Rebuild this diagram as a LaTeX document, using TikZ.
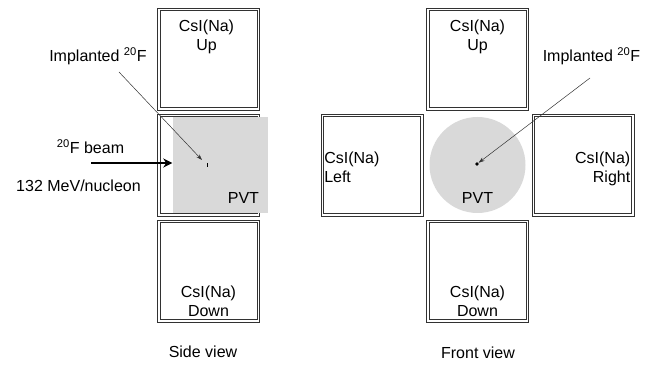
\documentclass[tikz,border=0pt]{standalone}
\usepackage{fontspec}
\setmainfont{Liberation Sans}
\usetikzlibrary{arrows.meta}
\definecolor{pvtgray}{RGB}{217,217,217}
\definecolor{rim}{RGB}{50,50,50}

\begin{document}
\begin{tikzpicture}[x=1pt, y=1pt, node distance=106pt,
    det/.style={draw=rim, line width=0.9pt, minimum size=102pt, inner sep=0pt},
    rimin/.style={draw=rim, line width=0.9pt},
    txt/.style={font=\fontsize{16}{19}\selectfont, inner sep=0pt, align=center},
    pin/.style={draw=rim, line width=0.5pt, -{Stealth[length=6pt, width=4pt]}},
    beam/.style={line width=2pt, -{Stealth[length=9pt, width=9pt]}}]
  \useasboundingbox (0,0) rectangle (667,369);

  % side view
  \node[det] (mS) at (208.5,204) {};
  \node[det] (uS) [above of=mS] {};
  \node[det] (dS) [below of=mS] {};
  \foreach \b in {uS,mS,dS}
    \draw[rimin] ([shift={(3pt,3pt)}]\b.south west) rectangle ([shift={(-3pt,-3pt)}]\b.north east);
  \node[fill=pvtgray, minimum width=95.5pt, minimum height=96pt, inner sep=0pt] (pvtS) at (220.25,204) {};
  \node[txt, anchor=north] (uSt) at ([xshift=-2pt, yshift=-12pt]uS.north) {CsI(Na)\\Up};
  \node[txt, anchor=north] (dSt) at ([yshift=37pt]dS.south) {CsI(Na)\\Down};
  \node[txt, anchor=base east] (pvtSt) at ([xshift=-9pt, yshift=10pt]pvtS.south east) {PVT};
  \node[txt] (implS) at (98,313) {Implanted \textsuperscript{20}F};
  \node[txt] (beamS) at (90.5,222) {\textsuperscript{20}F beam};
  \node[txt] (enS) at (78.5,183) {132 MeV/nucleon};
  \node[txt] (sideS) at (203,17) {Side view};
  \coordinate (ionS) at (207,204);
  \coordinate (tailS) at (119,297);
  \coordinate (beamtail) at (91,206);
  \draw[pin] (tailS) -- ([xshift=-5pt, yshift=5pt]ionS);
  \draw[line width=0.6pt] ([yshift=-2pt]ionS) -- ([yshift=2pt]ionS);
  \draw[beam] (beamtail) -- (beamtail -| pvtS.west);

  % front view
  \node[circle, fill=pvtgray, minimum size=96pt, inner sep=0pt] (pvtF) at (477.5,204) {};
  \node[det] (uF) [above of=pvtF] {};
  \node[det] (dF) [below of=pvtF] {};
  \node[det, node distance=105.5pt] (lF) [left of=pvtF] {};
  \node[det, node distance=105.5pt] (rF) [right of=pvtF] {};
  \foreach \b in {uF,dF,lF,rF}
    \draw[rimin] ([shift={(3pt,3pt)}]\b.south west) rectangle ([shift={(-3pt,-3pt)}]\b.north east);
  \node[txt, anchor=north] (uFt) at ([yshift=-12pt]uF.north) {CsI(Na)\\Up};
  \node[txt, anchor=north] (dFt) at ([yshift=37pt]dF.south) {CsI(Na)\\Down};
  \node[txt, anchor=north west, align=left] (lFt) at ([xshift=3.5pt, yshift=13pt]lF.west) {CsI(Na)\\Left};
  \node[txt, anchor=north east, align=right] (rFt) at ([xshift=-4pt, yshift=13pt]rF.east) {CsI(Na)\\Right};
  \node[txt, anchor=base] (pvtFt) at ([yshift=10pt]pvtF.south) {PVT};
  \node[txt] (implF) at (591.5,313) {Implanted \textsuperscript{20}F};
  \node[txt] (frontF) at (478,16) {Front view};
  \node[circle, fill, inner sep=1.3pt] (ionF) at (477,205) {};
  \coordinate (tailF) at (590,291);
  \draw[pin] (tailF) -- (ionF);
\end{tikzpicture}
\end{document}
